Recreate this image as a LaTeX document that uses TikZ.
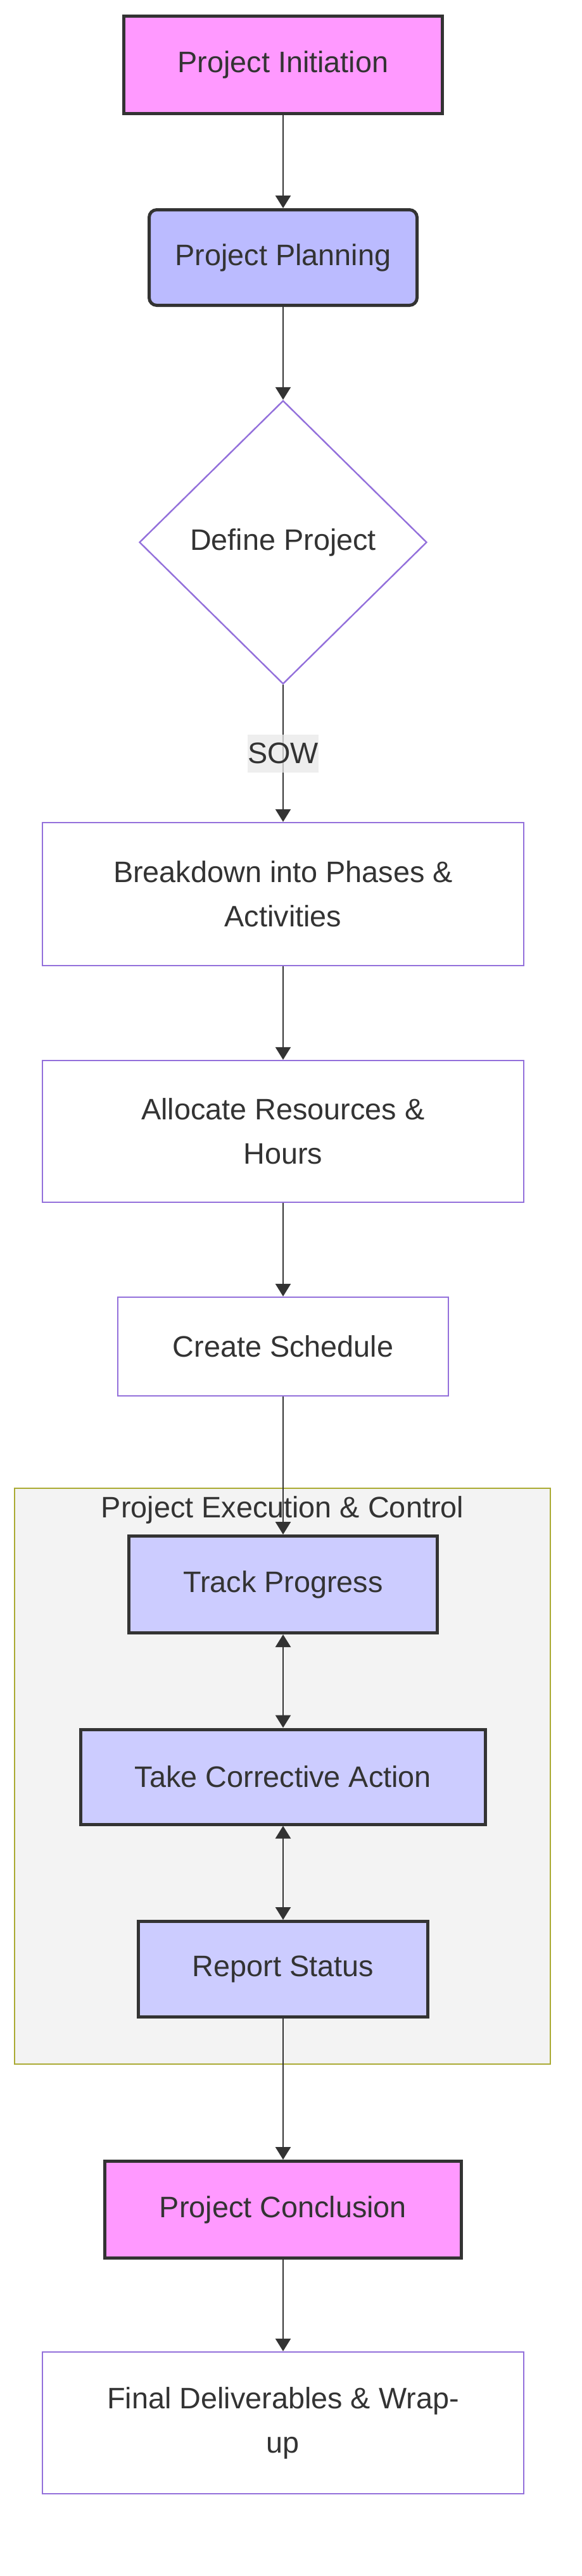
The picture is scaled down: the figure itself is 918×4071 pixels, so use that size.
\documentclass[tikz,border=0pt]{standalone}
\usepackage{fontspec}
\setmainfont{Liberation Sans}
\usetikzlibrary{shapes.geometric,arrows.meta}

\definecolor{ink}{HTML}{333333}
\definecolor{pinkfill}{HTML}{FF99FF}
\definecolor{planfill}{HTML}{BBBBFF}
\definecolor{execfill}{HTML}{CCCCFF}
\definecolor{purpleline}{HTML}{9370DB}
\definecolor{clusterfill}{HTML}{F3F3F3}
\definecolor{clusterline}{HTML}{AAAA33}
\definecolor{labelfill}{HTML}{E8E8E8}

\begin{document}
\begin{tikzpicture}[x=0.5pt,y=-0.5pt,
    every node/.style={font=\fontsize{23.4}{35}\selectfont, text=ink, align=center},
    phase/.style={draw=ink, line width=2.5pt, fill=pinkfill},
    stepbox/.style={draw=purpleline, line width=1.2pt, fill=white},
    execbox/.style={draw=ink, line width=2.5pt, fill=execfill},
    flow/.style={draw=ink, line width=1.35pt, -{Triangle[length=10pt,width=12pt]}},
    twoway/.style={flow, {Triangle[length=10pt,width=12pt]}-{Triangle[length=10pt,width=12pt]}},
    sowlabel/.style={fill=labelfill, fill opacity=0.75, text opacity=1, inner sep=0pt, minimum width=54pt, minimum height=30pt}
]
    \useasboundingbox (0,0) rectangle (918,4071);

    % Execution & Control group
    \draw[draw=clusterline, fill=clusterfill, line width=1pt] (23,2352) rectangle (869,3262);
    \node (grouptitle) at (446,2386) {Project Execution \& Control};

    % Initiation and planning
    \node[phase, minimum width=251.5pt, minimum height=77pt] (init) at (447,102.5) {Project Initiation};
    \node[draw=ink, line width=2.5pt, fill=planfill, rounded corners=6pt,
          minimum width=211.5pt, minimum height=75.5pt] (plan) at (447,407) {Project Planning};
    \node[stepbox, diamond, aspect=1, inner sep=0pt,
          minimum width=227pt, minimum height=224pt] (define) at (447,857) {Define Project};

    % Planning steps
    \node[stepbox, minimum width=380pt, minimum height=113pt] (bkd) at (447,1413) {Breakdown into Phases \&\\ Activities};
    \node[stepbox, minimum width=380pt, minimum height=112pt] (alloc) at (447,1788) {Allocate Resources \&\\ Hours};
    \node[stepbox, minimum width=261pt, minimum height=78pt] (sched) at (447,2128) {Create Schedule};

    % Execution steps
    \node[execbox, minimum width=243.5pt, minimum height=76.5pt] (track) at (447,2504) {Track Progress};
    \node[execbox, minimum width=319.5pt, minimum height=75pt] (take) at (447,2808) {Take Corrective Action};
    \node[execbox, minimum width=228.5pt, minimum height=75.5pt] (report) at (447,3112) {Report Status};

    % Conclusion
    \node[phase, minimum width=281.5pt, minimum height=76.5pt] (concl) at (447,3492) {Project Conclusion};
    \node[stepbox, minimum width=380pt, minimum height=112pt] (final) at (447,3829) {Final Deliverables \& Wrap-\\ up};

    % Connectors
    \foreach \a/\b in {init/plan, plan/define, bkd/alloc, alloc/sched, sched/track, report/concl, concl/final}
        \draw[flow] (\a) -- (\b);
    \draw[flow] (define) -- node[sowlabel] (sow) {SOW} (bkd);
    \foreach \a/\b in {track/take, take/report}
        \draw[twoway] (\a) -- (\b);
\end{tikzpicture}
\end{document}
